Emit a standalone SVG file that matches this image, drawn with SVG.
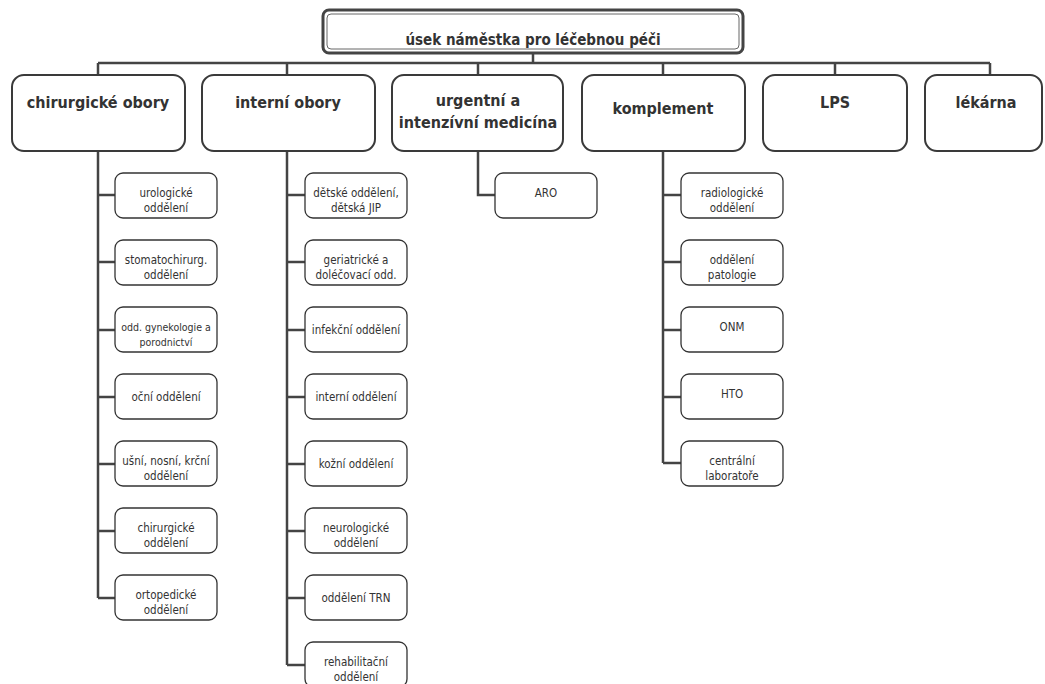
<svg xmlns="http://www.w3.org/2000/svg" width="1045" height="684" viewBox="0 0 1045 684">
<style>
.top{fill:#fff;stroke:#3a3a3a;stroke-width:2}
.sub{fill:#fff;stroke:#333;stroke-width:1.3}
.tt{font-family:"DejaVu Sans Condensed","DejaVu Sans",sans-serif;font-weight:bold;font-size:16px;fill:#333;text-anchor:middle}
.st{font-family:"DejaVu Sans Condensed","DejaVu Sans",sans-serif;font-size:11.5px;fill:#333;text-anchor:middle}
.ln{fill:none;stroke:#444;stroke-width:2.5}
</style>
<rect width="1045" height="684" fill="#fff"/>
<g id="connectors">
<path class="ln" d="M533 53V63M98 63H990M98 63V75M287 63V75M478 63V75M663 63V75M835 63V75M990 63V75"/>
<path class="ln" d="M98 151V598M98 195H115M98 262H115M98 330H115M98 397H115M98 464H115M98 531H115M98 598H115"/>
<path class="ln" d="M287 151V665M287 195H305M287 262H305M287 330H305M287 397H305M287 464H305M287 531H305M287 598H305M287 665H305"/>
<path class="ln" d="M478 151V195H495"/>
<path class="ln" d="M663 151V463M663 195H681M663 262H681M663 330H681M663 397H681M663 463H681"/>
</g>
<g id="root">
<rect x="323" y="10" width="420" height="43" rx="6" fill="#fff" stroke="#444" stroke-width="3"/>
<rect x="327" y="14" width="412" height="35" rx="4" fill="none" stroke="#666" stroke-width="1"/>
<text class="tt" x="533" y="45" style="font-size:15px">úsek náměstka pro léčebnou péči</text>
</g>
<g id="chir"><rect class="top" x="12" y="75" width="173" height="76" rx="12"/><text class="tt" x="98" y="108">chirurgické obory</text></g>
<g id="int"><rect class="top" x="202" y="75" width="173" height="76" rx="12"/><text class="tt" x="288" y="108">interní obory</text></g>
<g id="urg"><rect class="top" x="392" y="75" width="171" height="76" rx="12"/><text class="tt" x="478" y="106">urgentní a</text><text class="tt" x="478" y="128">intenzívní medicína</text></g>
<g id="kompl"><rect class="top" x="582" y="75" width="163" height="76" rx="12"/><text class="tt" x="663" y="114">komplement</text></g>
<g id="lps"><rect class="top" x="763" y="75" width="144" height="76" rx="12"/><text class="tt" x="835" y="108">LPS</text></g>
<g id="lek"><rect class="top" x="925" y="75" width="117" height="76" rx="12"/><text class="tt" x="986" y="108">lékárna</text></g>

<g id="c1"><rect class="sub" x="115" y="173" width="102" height="45" rx="8"/><text class="st" x="166" y="197">urologické</text><text class="st" x="166" y="212">oddělení</text></g>
<g id="c2"><rect class="sub" x="115" y="240" width="102" height="45" rx="8"/><text class="st" x="166" y="264">stomatochirurg.</text><text class="st" x="166" y="279">oddělení</text></g>
<g id="c3"><rect class="sub" x="115" y="307" width="102" height="45" rx="8"/><text class="st" x="166" y="331" style="font-size:10.5px">odd. gynekologie a</text><text class="st" x="166" y="346" style="font-size:10.5px">porodnictví</text></g>
<g id="c4"><rect class="sub" x="115" y="374" width="102" height="45" rx="8"/><text class="st" x="166" y="401">oční oddělení</text></g>
<g id="c5"><rect class="sub" x="115" y="441" width="102" height="45" rx="8"/><text class="st" x="166" y="465">ušní, nosní, krční</text><text class="st" x="166" y="480">oddělení</text></g>
<g id="c6"><rect class="sub" x="115" y="508" width="102" height="45" rx="8"/><text class="st" x="166" y="532">chirurgické</text><text class="st" x="166" y="547">oddělení</text></g>
<g id="c7"><rect class="sub" x="115" y="575" width="102" height="45" rx="8"/><text class="st" x="166" y="599">ortopedické</text><text class="st" x="166" y="614">oddělení</text></g>

<g id="i1"><rect class="sub" x="305" y="173" width="102" height="45" rx="8"/><text class="st" x="356" y="197">dětské oddělení,</text><text class="st" x="356" y="212">dětská JIP</text></g>
<g id="i2"><rect class="sub" x="305" y="240" width="102" height="45" rx="8"/><text class="st" x="356" y="264">geriatrické a</text><text class="st" x="356" y="279">doléčovací odd.</text></g>
<g id="i3"><rect class="sub" x="305" y="307" width="102" height="45" rx="8"/><text class="st" x="356" y="334">infekční oddělení</text></g>
<g id="i4"><rect class="sub" x="305" y="374" width="102" height="45" rx="8"/><text class="st" x="356" y="401">interní oddělení</text></g>
<g id="i5"><rect class="sub" x="305" y="441" width="102" height="45" rx="8"/><text class="st" x="356" y="468">kožní oddělení</text></g>
<g id="i6"><rect class="sub" x="305" y="508" width="102" height="45" rx="8"/><text class="st" x="356" y="532">neurologické</text><text class="st" x="356" y="547">oddělení</text></g>
<g id="i7"><rect class="sub" x="305" y="575" width="102" height="45" rx="8"/><text class="st" x="356" y="602">oddělení TRN</text></g>
<g id="i8"><rect class="sub" x="305" y="642" width="102" height="45" rx="8"/><text class="st" x="356" y="666">rehabilitační</text><text class="st" x="356" y="681">oddělení</text></g>

<g id="aro"><rect class="sub" x="495" y="173" width="102" height="45" rx="8"/><text class="st" x="546" y="197">ARO</text></g>

<g id="k1"><rect class="sub" x="681" y="173" width="102" height="45" rx="8"/><text class="st" x="732" y="197">radiologické</text><text class="st" x="732" y="212">oddělení</text></g>
<g id="k2"><rect class="sub" x="681" y="240" width="102" height="45" rx="8"/><text class="st" x="732" y="264">oddělení</text><text class="st" x="732" y="279">patologie</text></g>
<g id="k3"><rect class="sub" x="681" y="307" width="102" height="45" rx="8"/><text class="st" x="732" y="331">ONM</text></g>
<g id="k4"><rect class="sub" x="681" y="374" width="102" height="45" rx="8"/><text class="st" x="732" y="398">HTO</text></g>
<g id="k5"><rect class="sub" x="681" y="441" width="102" height="45" rx="8"/><text class="st" x="732" y="465">centrální</text><text class="st" x="732" y="480">laboratoře</text></g>
</svg>
